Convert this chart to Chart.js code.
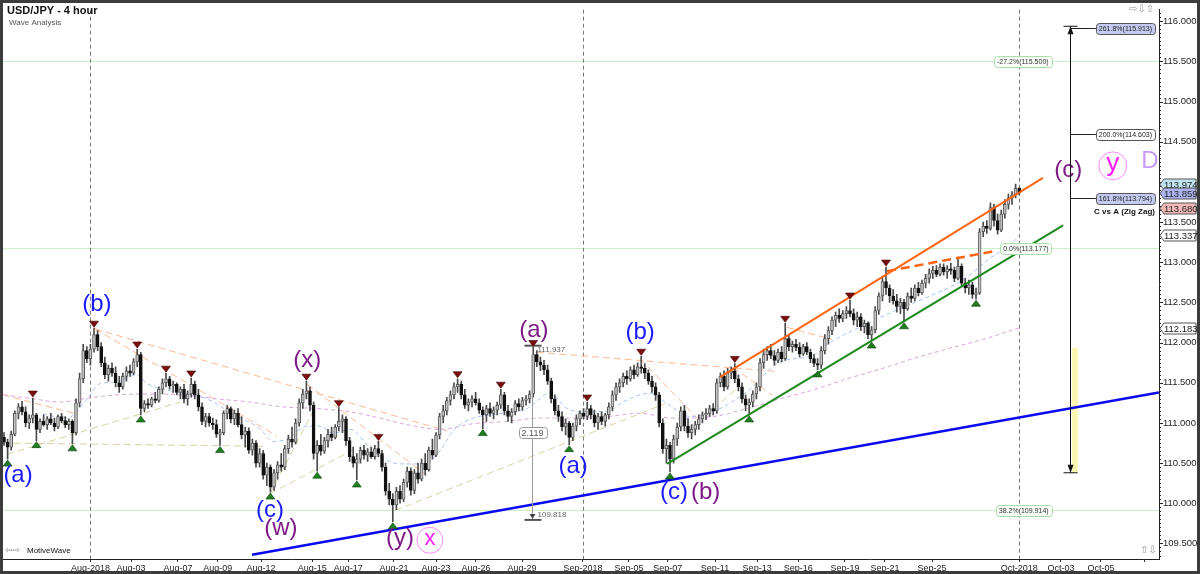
<!DOCTYPE html>
<html>
<head>
<meta charset="utf-8">
<script src="https://cdn.jsdelivr.net/npm/chart.js@4.4.1/dist/chart.umd.min.js"></script>
<style>
  html, body { margin: 0; padding: 0; background: #fff; }
  #wrap { width: 1200px; height: 574px; position: relative; }
</style>
</head>
<body>
<div id="wrap"><canvas id="chart_cv"></canvas></div>
<script>
// x軸の目盛り（バー番号と日付ラベル）
const tickIdx = [24, 35.3, 48.3, 59.4, 71.4, 85.6, 95.6, 108.3, 120, 131.1, 143.9, 160.8, 173.6, 184.4, 197.5, 209.2, 220.6, 233.6, 244.7, 257.8, 282, 293.6, 304.7, 316.8];
const tickLabels = ['Aug-2018', 'Aug-03', 'Aug-07', 'Aug-09', 'Aug-12', 'Aug-15', 'Aug-17', 'Aug-21', 'Aug-23', 'Aug-26', 'Aug-29', 'Sep-2018', 'Sep-05', 'Sep-07', 'Sep-11', 'Sep-13', 'Sep-16', 'Sep-19', 'Sep-21', 'Sep-25', 'Oct-2018', 'Oct-03', 'Oct-05', ''];
const monthIdx = [24, 160.8, 282];
const yTicks = [109.5, 110, 110.5, 111, 111.5, 112, 112.5, 113, 113.5, 114, 114.5, 115, 115.5, 116];

// ローソク足 (4時間足)
const opens = [
  110.82,110.76,110.70,110.86,111.12,111.20,111.14,111.00,111.06,111.10,
  110.92,111.02,110.98,111.05,111.00,110.95,111.08,111.03,110.98,111.02,
  110.88,111.25,111.55,111.90,111.80,111.92,112.10,111.95,111.75,111.60,
  111.68,111.62,111.50,111.45,111.58,111.65,111.62,111.76,111.85,111.18,
  111.24,111.22,111.30,111.28,111.42,111.50,111.55,111.46,111.48,111.38,
  111.42,111.30,111.36,111.48,111.35,111.20,111.02,111.08,111.00,110.98,
  110.86,110.88,111.12,111.18,111.05,111.12,110.98,110.85,110.90,110.66,
  110.75,110.50,110.62,110.35,110.45,110.20,110.38,110.48,110.45,110.68,
  110.80,110.76,111.00,111.25,111.36,111.40,111.22,110.62,110.72,110.65,
  110.78,110.86,110.82,110.95,111.02,111.05,110.78,110.58,110.50,110.55,
  110.66,110.60,110.64,110.58,110.68,110.62,110.45,110.15,110.05,109.98,
  110.15,110.05,110.26,110.40,110.16,110.38,110.30,110.50,110.42,110.66,
  110.60,110.85,111.08,111.15,111.28,111.35,111.45,111.48,111.35,111.22,
  111.26,111.30,111.25,111.16,111.10,111.18,111.12,111.16,111.22,111.35,
  111.15,111.08,111.14,111.24,111.20,111.28,111.30,111.36,111.85,111.76,
  111.72,111.66,111.52,111.30,111.15,111.08,110.95,111.00,110.82,110.96,
  111.05,111.12,111.08,111.18,111.10,111.00,111.08,111.02,111.10,111.20,
  111.35,111.45,111.50,111.58,111.55,111.66,111.60,111.70,111.68,111.62,
  111.52,111.45,111.35,111.00,110.68,110.72,110.55,110.80,110.95,111.15,
  110.96,110.88,110.92,110.98,111.05,111.10,111.12,111.18,111.15,111.50,
  111.58,111.45,111.62,111.65,111.55,111.45,111.30,111.22,111.26,111.36,
  111.45,111.75,111.85,111.90,111.84,111.78,111.88,111.80,112.05,111.95,
  111.98,111.94,111.86,111.95,111.88,111.80,111.74,111.72,111.90,112.05,
  112.15,112.28,112.34,112.30,112.36,112.40,112.36,112.28,112.32,112.20,
  112.24,112.10,112.16,112.40,112.58,112.76,112.68,112.58,112.52,112.45,
  112.50,112.42,112.58,112.55,112.68,112.62,112.74,112.80,112.86,112.90,
  112.85,112.94,112.88,112.92,112.90,112.80,112.95,112.74,112.68,112.72,
  112.60,112.62,113.38,113.45,113.42,113.68,113.52,113.40,113.60,113.72,
  113.80,113.84,113.92
];
const highs = [
  110.88,110.80,110.90,111.15,111.24,111.27,111.20,111.10,111.31,111.12,
  111.05,111.10,111.08,111.12,111.06,111.10,111.12,111.08,111.05,111.04,
  111.30,111.62,111.98,111.95,111.98,112.18,112.15,112.00,111.82,111.72,
  111.75,111.70,111.58,111.62,111.70,111.72,111.80,111.92,111.88,111.28,
  111.30,111.32,111.38,111.45,111.55,111.62,111.58,111.52,111.50,111.45,
  111.48,111.40,111.56,111.52,111.42,111.25,111.12,111.12,111.06,111.04,
  110.92,111.15,111.22,111.20,111.16,111.18,111.08,110.95,110.94,110.80,
  110.78,110.68,110.66,110.50,110.48,110.42,110.52,110.62,110.72,110.85,
  110.95,111.05,111.30,111.42,111.52,111.45,111.26,110.78,110.86,110.82,
  110.92,110.95,110.98,111.19,111.10,111.08,110.82,110.70,110.62,110.70,
  110.72,110.68,110.70,110.72,110.77,110.66,110.50,110.25,110.12,110.20,
  110.22,110.30,110.45,110.44,110.42,110.50,110.55,110.62,110.70,110.80,
  110.88,111.12,111.22,111.32,111.40,111.50,111.55,111.52,111.42,111.30,
  111.34,111.38,111.30,111.20,111.22,111.25,111.20,111.26,111.42,111.38,
  111.22,111.18,111.28,111.30,111.32,111.34,111.40,111.94,111.90,111.82,
  111.78,111.72,111.56,111.35,111.22,111.14,111.05,111.02,111.00,111.10,
  111.15,111.18,111.26,111.22,111.16,111.12,111.14,111.12,111.25,111.40,
  111.50,111.55,111.62,111.65,111.70,111.72,111.75,111.83,111.74,111.66,
  111.58,111.50,111.38,111.05,110.80,110.76,110.85,111.00,111.20,111.22,
  111.05,110.98,111.02,111.10,111.14,111.18,111.22,111.24,111.55,111.62,
  111.65,111.68,111.70,111.74,111.60,111.50,111.35,111.30,111.40,111.50,
  111.80,111.92,111.95,111.98,111.90,111.92,111.95,112.24,112.10,112.02,
  112.04,112.00,111.98,112.00,111.92,111.85,111.80,111.95,112.10,112.20,
  112.32,112.38,112.42,112.40,112.45,112.53,112.42,112.38,112.36,112.28,
  112.26,112.20,112.45,112.62,112.82,112.94,112.72,112.66,112.60,112.55,
  112.54,112.62,112.68,112.72,112.75,112.78,112.85,112.92,112.95,112.96,
  112.98,112.98,112.96,112.99,112.94,113.05,112.98,112.80,112.78,112.75,
  112.68,113.42,113.50,113.52,113.74,113.72,113.60,113.65,113.78,113.85,
  113.88,113.974,113.93
];
const lows = [
  110.72,110.55,110.66,110.84,111.05,111.10,110.95,110.93,111.00,110.78,
  110.88,110.96,110.92,110.98,110.90,110.93,111.00,110.94,110.92,110.74,
  110.85,111.20,111.50,111.75,111.72,111.88,111.90,111.70,111.55,111.52,
  111.58,111.45,111.38,111.42,111.52,111.58,111.60,111.70,111.10,111.14,
  111.18,111.20,111.25,111.26,111.36,111.45,111.42,111.38,111.35,111.30,
  111.25,111.22,111.32,111.30,111.15,110.98,110.95,110.96,110.92,110.82,
  110.72,110.85,111.05,111.00,110.98,110.95,110.80,110.70,110.62,110.60,
  110.45,110.45,110.30,110.22,110.14,110.16,110.30,110.40,110.42,110.62,
  110.70,110.74,110.96,111.18,111.30,111.15,110.55,110.40,110.60,110.62,
  110.70,110.78,110.80,110.90,110.88,110.72,110.52,110.45,110.29,110.50,
  110.55,110.52,110.56,110.55,110.58,110.40,110.10,109.98,109.77,109.92,
  110.00,110.02,110.20,110.10,110.12,110.25,110.28,110.35,110.40,110.55,
  110.58,110.80,111.00,111.10,111.22,111.30,111.38,111.30,111.18,111.15,
  111.20,111.22,111.12,110.93,111.02,111.08,111.05,111.10,111.18,111.10,
  111.02,111.00,111.10,111.15,111.16,111.22,111.25,111.32,111.70,111.65,
  111.60,111.48,111.25,111.10,111.02,110.90,110.85,110.73,110.78,110.90,
  110.98,111.05,111.04,111.05,110.95,110.92,110.98,110.96,111.05,111.15,
  111.28,111.38,111.45,111.48,111.52,111.55,111.58,111.62,111.55,111.48,
  111.38,111.28,110.95,110.62,110.50,110.39,110.50,110.72,110.90,110.90,
  110.82,110.80,110.85,110.92,111.00,111.04,111.08,111.10,111.12,111.45,
  111.40,111.42,111.55,111.50,111.40,111.25,111.15,111.10,111.20,111.30,
  111.40,111.68,111.78,111.80,111.72,111.75,111.76,111.78,111.90,111.88,
  111.90,111.82,111.84,111.85,111.75,111.70,111.66,111.68,111.86,111.98,
  112.10,112.20,112.25,112.26,112.30,112.32,112.22,112.20,112.15,112.12,
  112.05,112.02,112.12,112.35,112.52,112.60,112.50,112.48,112.38,112.36,
  112.26,112.40,112.50,112.52,112.58,112.60,112.68,112.74,112.80,112.82,
  112.83,112.84,112.80,112.85,112.76,112.78,112.70,112.62,112.60,112.55,
  112.54,112.60,113.32,113.36,113.40,113.45,113.35,113.38,113.55,113.66,
  113.72,113.80,113.84
];
const closes = [
  110.76,110.70,110.86,111.12,111.20,111.14,111.00,111.06,111.10,110.92,
  111.02,110.98,111.05,111.00,110.95,111.08,111.03,110.98,111.02,110.88,
  111.25,111.55,111.90,111.80,111.92,112.10,111.95,111.75,111.60,111.68,
  111.62,111.50,111.45,111.58,111.65,111.62,111.76,111.85,111.18,111.24,
  111.22,111.30,111.28,111.42,111.50,111.55,111.46,111.48,111.38,111.42,
  111.30,111.36,111.48,111.35,111.20,111.02,111.08,111.00,110.98,110.86,
  110.88,111.12,111.18,111.05,111.12,110.98,110.85,110.90,110.66,110.75,
  110.50,110.62,110.35,110.45,110.20,110.38,110.48,110.45,110.68,110.80,
  110.76,111.00,111.25,111.36,111.40,111.22,110.62,110.72,110.65,110.78,
  110.86,110.82,110.95,111.02,111.05,110.78,110.58,110.50,110.55,110.66,
  110.60,110.64,110.58,110.68,110.62,110.45,110.15,110.05,109.98,110.15,
  110.05,110.26,110.40,110.16,110.38,110.30,110.50,110.42,110.66,110.60,
  110.85,111.08,111.15,111.28,111.35,111.45,111.48,111.35,111.22,111.26,
  111.30,111.25,111.16,111.10,111.18,111.12,111.16,111.22,111.35,111.15,
  111.08,111.14,111.24,111.20,111.28,111.30,111.36,111.85,111.76,111.72,
  111.66,111.52,111.30,111.15,111.08,110.95,111.00,110.82,110.96,111.05,
  111.12,111.08,111.18,111.10,111.00,111.08,111.02,111.10,111.20,111.35,
  111.45,111.50,111.58,111.55,111.66,111.60,111.70,111.68,111.62,111.52,
  111.45,111.35,111.00,110.68,110.72,110.55,110.80,110.95,111.15,110.96,
  110.88,110.92,110.98,111.05,111.10,111.12,111.18,111.15,111.50,111.58,
  111.45,111.62,111.65,111.55,111.45,111.30,111.22,111.26,111.36,111.45,
  111.75,111.85,111.90,111.84,111.78,111.88,111.80,112.05,111.95,111.98,
  111.94,111.86,111.95,111.88,111.80,111.74,111.72,111.90,112.05,112.15,
  112.28,112.34,112.30,112.36,112.40,112.36,112.28,112.32,112.20,112.24,
  112.10,112.16,112.40,112.58,112.76,112.68,112.58,112.52,112.45,112.50,
  112.42,112.58,112.55,112.68,112.62,112.74,112.80,112.86,112.90,112.85,
  112.94,112.88,112.92,112.90,112.80,112.95,112.74,112.68,112.72,112.60,
  112.62,113.38,113.45,113.42,113.68,113.52,113.40,113.60,113.72,113.80,
  113.84,113.92,113.86
];

// 移動平均（青＝短期、紫＝長期）
const maFastIdx = [10.8, 17.5, 23.1, 26.7, 31.4, 36.9, 39.7, 45.3, 50.8, 56.4, 63.6, 71.1, 74.7, 78.6, 84.2, 87.8, 91.4, 96.1, 102.5, 110, 116.4, 121.1, 124.7, 130.3, 137, 145.3, 151.7, 156.4, 160, 167.5, 171.9, 179.4, 184.2, 190.6, 197, 206.4, 215.6, 224.7, 229.4, 238.6, 248.1, 257.2, 266.4, 273.9, 280.3, 282];
const maFast = [111.11, 111.06, 111.30, 111.49, 111.51, 111.60, 111.49, 111.41, 111.36, 111.30, 111.11, 110.93, 110.77, 110.80, 110.96, 110.96, 110.87, 110.92, 110.65, 110.49, 110.49, 110.65, 110.90, 111.06, 111.11, 111.18, 111.37, 111.18, 111.14, 111.14, 111.26, 111.37, 111.24, 111.08, 111.14, 111.39, 111.76, 111.84, 112.00, 112.21, 112.41, 112.58, 112.78, 113.05, 113.25, 113.337];
const maSlowIdx = [0, 8.1, 15.6, 21.9, 31.4, 40.6, 49.7, 59.2, 68.3, 77.5, 86.9, 96.1, 102.5, 111.9, 121.1, 130.3, 139.7, 148.9, 158.1, 167.5, 176.7, 185.8, 197, 206.4, 215.6, 224.7, 234.2, 243.3, 252.5, 261.9, 271.1, 282];
const maSlow = [111.35, 111.30, 111.26, 111.30, 111.35, 111.36, 111.35, 111.30, 111.26, 111.20, 111.18, 111.14, 111.08, 110.98, 110.92, 110.99, 111.02, 111.06, 111.06, 111.08, 111.12, 111.06, 111.08, 111.18, 111.30, 111.41, 111.55, 111.67, 111.80, 111.92, 112.03, 112.183];

// スイング高値・安値（バー番号）
const swingHighs = [8, 25, 37, 45, 52, 84, 93, 104, 126, 138, 147, 162, 177, 203, 217, 235, 245];
const swingLows = [1, 9, 19, 38, 60, 74, 87, 98, 108, 133, 157, 185, 207, 226, 241, 250, 270];

// フィボナッチ
const fibPct = ['261.8%', '200.0%', '161.8%'];
const fibLevels = [115.913, 114.603, 113.794];
const retPct = ['-27.2%', '0.0%', '38.2%'];
const retLevels = [115.500, 113.177, 109.914];
const zigBase = 110.38;
const measureTop = 111.937;
const measureBottom = 109.818;
const priceTags = [113.974, 113.859, 113.680, 113.337, 112.183];

// トレンドライン [バー番号, 価格]
const blueLine = [[68.9, 109.36], [320.8, 111.38]];
const greenLine = [[184.2, 110.49], [294.2, 113.46]];
const orangeLine = [[198.9, 111.57], [288.6, 114.05]];
const orangeDash = [[245.3, 112.89], [275.3, 113.14]];
const salmonLines = [
  [[-0.3, 111.35], [20.3, 111.11]],
  [[25.3, 112.17], [123.1, 110.90]],
  [[25.3, 112.17], [75.8, 110.84]],
  [[84.2, 111.48], [118.3, 110.32]],
  [[148.1, 111.88], [215, 111.64]],
  [[176.7, 111.80], [192.5, 111.06]],
  [[202.5, 111.69], [213.3, 111.35]],
  [[217.5, 112.19], [230, 112.04]]
];
const tanLines = [
  [[0.8, 110.61], [48.9, 111.26]],
  [[-0.3, 110.75], [73, 110.71]],
  [[73.9, 110.12], [85.8, 111.14]],
  [[73.9, 110.12], [98, 110.69]],
  [[108.6, 109.91], [183.6, 111.24]],
  [[197, 111.17], [203.6, 111.43]]
];

const BLUE = '#1a1aff', PURPLE = '#7d1a86';
// 波動ラベル
const waveLabels = [
  { t: '(a)', i: 3.9, p: 110.35, c: BLUE },
  { t: '(b)', i: 25.8, p: 112.47, c: BLUE },
  { t: '(c)', i: 73.9, p: 109.91, c: BLUE },
  { t: '(w)', i: 76.9, p: 109.69, c: PURPLE },
  { t: '(x)', i: 84.2, p: 111.78, c: PURPLE },
  { t: '(y)', i: 110, p: 109.565, c: PURPLE },
  { t: '(a)', i: 147.2, p: 112.15, c: PURPLE },
  { t: '(a)', i: 158.1, p: 110.465, c: BLUE },
  { t: '(b)', i: 176.7, p: 112.13, c: BLUE },
  { t: '(c)', i: 186.1, p: 110.13, c: BLUE },
  { t: '(b)', i: 194.9, p: 110.13, c: PURPLE },
  { t: '(c)', i: 295.6, p: 114.14, c: PURPLE }
];

function seg(pts, color, width, dash, order) {
  return {
    type: 'line',
    data: pts.map(q => ({ x: q[0], y: q[1] })),
    borderColor: color, borderWidth: width, borderDash: dash || [],
    pointRadius: 0, fill: false, order: order
  };
}

const datasets = [];
datasets.push(seg(blueLine, '#0a0af0', 2.5, null, 1));
datasets.push(seg(greenLine, '#1c8a1c', 2, null, 1));
datasets.push(seg(orangeLine, '#ff6410', 2, null, 1));
datasets.push(seg(orangeDash, '#ff6410', 2.5, [9, 5], 1));
datasets.push({
  type: 'bar', order: 4, grouped: false, barThickness: 3, minBarLength: 1,
  data: opens.map((o, i) => ({ x: i, y: [o, closes[i]] })),
  backgroundColor: ctx => closes[ctx.dataIndex] >= opens[ctx.dataIndex] ? '#c4c4c4' : '#111111',
  borderColor: ctx => closes[ctx.dataIndex] >= opens[ctx.dataIndex] ? '#5a5a5a' : '#111111',
  borderWidth: 1, borderSkipped: false
});
datasets.push({
  type: 'bar', order: 5, grouped: false, barThickness: 1,
  data: highs.map((h, i) => ({ x: i, y: [lows[i], h] })),
  backgroundColor: '#4a4a4a', borderWidth: 0
});
datasets.push({
  type: 'line', order: 8, data: maFastIdx.map((x, k) => ({ x: x, y: maFast[k] })),
  borderColor: '#a9c1f7', borderWidth: 1, borderDash: [4, 3], pointRadius: 0,
  cubicInterpolationMode: 'monotone'
});
datasets.push({
  type: 'line', order: 8, data: maSlowIdx.map((x, k) => ({ x: x, y: maSlow[k] })),
  borderColor: '#d9a6df', borderWidth: 1, borderDash: [4, 3], pointRadius: 0,
  cubicInterpolationMode: 'monotone'
});
salmonLines.forEach(l => datasets.push(seg(l, '#ffb893', 1, [7, 4], 9)));
tanLines.forEach(l => datasets.push(seg(l, '#d8d2a2', 1, [7, 4], 9)));

function box(ctx, xr, yc, text, fill, stroke, font, color, align) {
  ctx.font = font;
  const w = ctx.measureText(text).width + 6, h = 11;
  const x0 = align === 'center' ? xr - w / 2 : xr - w;
  ctx.beginPath();
  ctx.roundRect(Math.round(x0) + 0.5, Math.round(yc - h / 2) + 0.5, Math.round(w), h, 3);
  ctx.fillStyle = fill; ctx.fill();
  ctx.strokeStyle = stroke; ctx.lineWidth = 1; ctx.stroke();
  ctx.fillStyle = color; ctx.textAlign = 'center'; ctx.textBaseline = 'middle';
  ctx.fillText(text, x0 + w / 2, yc + 0.5);
  return x0;
}

const overlay = {
  id: 'overlay',
  beforeDatasetsDraw(chart) {
    const { ctx, chartArea: a } = chart;
    const x = chart.scales.x, y = chart.scales.y;
    ctx.save();
    ctx.strokeStyle = '#c9f0c9'; ctx.lineWidth = 1;
    retLevels.forEach(v => {
      const py = Math.round(y.getPixelForValue(v)) + 0.5;
      ctx.beginPath(); ctx.moveTo(a.left, py); ctx.lineTo(a.right, py); ctx.stroke();
    });
    ctx.setLineDash([4, 3]); ctx.strokeStyle = '#7a7a7a';
    monthIdx.forEach(m => {
      const px = Math.round(x.getPixelForValue(m)) + 0.5;
      ctx.beginPath(); ctx.moveTo(px, a.top); ctx.lineTo(px, a.bottom); ctx.stroke();
    });
    ctx.setLineDash([]);
    // 黄色の帯
    const yx0 = x.getPixelForValue(296.7), yx1 = x.getPixelForValue(298.3);
    ctx.fillStyle = '#fbf6b0';
    ctx.fillRect(yx0, y.getPixelForValue(measureTop), yx1 - yx0, y.getPixelForValue(zigBase) - y.getPixelForValue(measureTop));
    ctx.restore();
  },
  afterDatasetsDraw(chart) {
    const { ctx, chartArea: a } = chart;
    const x = chart.scales.x, y = chart.scales.y;
    ctx.save();
    // 測定ツール
    const mx = Math.round(x.getPixelForValue(146.7)) + 0.5;
    const mt = y.getPixelForValue(measureTop), mb = y.getPixelForValue(measureBottom);
    ctx.strokeStyle = '#9a9a9a'; ctx.lineWidth = 1;
    ctx.beginPath(); ctx.moveTo(mx, mt); ctx.lineTo(mx, mb); ctx.stroke();
    ctx.strokeStyle = '#555'; ctx.lineWidth = 2;
    ctx.beginPath(); ctx.moveTo(mx - 8, mt - 2); ctx.lineTo(mx + 9, mt - 2); ctx.stroke();
    ctx.beginPath(); ctx.moveTo(mx - 8, mb + 2); ctx.lineTo(mx + 9, mb + 2); ctx.stroke();
    ctx.fillStyle = '#444';
    ctx.beginPath(); ctx.moveTo(mx - 3, mb - 4); ctx.lineTo(mx + 3, mb - 4); ctx.lineTo(mx, mb + 1); ctx.fill();
    ctx.font = '8px "Liberation Sans"'; ctx.fillStyle = '#666'; ctx.textBaseline = 'middle'; ctx.textAlign = 'left';
    ctx.fillText(measureTop.toFixed(3), mx + 5, mt + 2);
    ctx.fillText(measureBottom.toFixed(3), mx + 5, mb - 3);
    box(ctx, mx, (mt + mb) / 2, (measureTop - measureBottom).toFixed(3), '#fff', '#999', '9px "Liberation Sans"', '#555', 'center');

    // スイングマーカー
    swingHighs.forEach(i => {
      const px = x.getPixelForValue(i), py = y.getPixelForValue(highs[i]) - 1;
      ctx.beginPath(); ctx.moveTo(px, py); ctx.lineTo(px - 4.5, py - 6); ctx.lineTo(px + 4.5, py - 6); ctx.closePath();
      ctx.fillStyle = '#7c0d0d'; ctx.fill(); ctx.strokeStyle = '#3a0000'; ctx.lineWidth = 0.6; ctx.stroke();
    });
    swingLows.forEach(i => {
      const px = x.getPixelForValue(i), py = y.getPixelForValue(lows[i]) + 1;
      ctx.beginPath(); ctx.moveTo(px, py); ctx.lineTo(px - 4.5, py + 6); ctx.lineTo(px + 4.5, py + 6); ctx.closePath();
      ctx.fillStyle = '#1d7f1d'; ctx.fill(); ctx.strokeStyle = '#0a3a0a'; ctx.lineWidth = 0.6; ctx.stroke();
    });

    // 波動ラベル
    ctx.textAlign = 'center'; ctx.textBaseline = 'middle';
    waveLabels.forEach(w => {
      ctx.font = '24px "Liberation Sans"'; ctx.fillStyle = w.c;
      ctx.fillText(w.t, x.getPixelForValue(w.i), y.getPixelForValue(w.p));
    });
    // 丸囲み x / y と D
    const cx1 = x.getPixelForValue(118.3), cy1 = y.getPixelForValue(109.54);
    ctx.strokeStyle = '#ff8cff'; ctx.lineWidth = 1;
    ctx.beginPath(); ctx.arc(cx1, cy1, 13, 0, Math.PI * 2); ctx.stroke();
    ctx.fillStyle = '#ff1aff'; ctx.font = '22px "Liberation Sans"';
    ctx.fillText('x', cx1, cy1 - 1);
    const cx2 = x.getPixelForValue(308), cy2 = y.getPixelForValue(114.20);
    ctx.beginPath(); ctx.arc(cx2, cy2, 14, 0, Math.PI * 2); ctx.stroke();
    ctx.font = '26px "Liberation Sans"'; ctx.fillText('y', cx2, cy2 - 2);
    ctx.fillStyle = '#c79cf5'; ctx.font = '24px "Liberation Sans"';
    ctx.fillText('D', x.getPixelForValue(318.3), y.getPixelForValue(114.25));

    // 戻り（リトレースメント）ラベル
    const rr = x.getPixelForValue(291);
    retLevels.forEach((v, k) => {
      box(ctx, rr, y.getPixelForValue(v), retPct[k] + '(' + v.toFixed(3) + ')', '#fbfff9', '#a8dca8', '7px "Liberation Sans"', '#333', 'right');
    });

    // C vs A 矢印とフィボナッチ拡張
    const ax = Math.round(x.getPixelForValue(296.1)) + 0.5;
    const at = y.getPixelForValue(fibLevels[0]) - 2, ab = y.getPixelForValue(zigBase);
    ctx.strokeStyle = '#111'; ctx.lineWidth = 1;
    ctx.beginPath(); ctx.moveTo(ax, at); ctx.lineTo(ax, ab); ctx.stroke();
    ctx.beginPath(); ctx.moveTo(ax - 7, at); ctx.lineTo(ax + 7, at); ctx.stroke();
    ctx.beginPath(); ctx.moveTo(ax - 7, ab); ctx.lineTo(ax + 7, ab); ctx.stroke();
    ctx.fillStyle = '#111';
    ctx.beginPath(); ctx.moveTo(ax, at); ctx.lineTo(ax - 3, at + 8); ctx.lineTo(ax + 3, at + 8); ctx.fill();
    ctx.beginPath(); ctx.moveTo(ax, ab); ctx.lineTo(ax - 3, ab - 8); ctx.lineTo(ax + 3, ab - 8); ctx.fill();
    const fr = a.right - 4;
    fibLevels.forEach((v, k) => {
      const py = Math.round(y.getPixelForValue(v)) + 0.5;
      const fill = k === 1 ? '#ffffff' : '#c4cbf0';
      ctx.font = '7px "Liberation Sans"';
      const w = ctx.measureText(fibPct[k] + '(' + v.toFixed(3) + ')').width + 6;
      ctx.strokeStyle = '#222'; ctx.lineWidth = 1;
      ctx.beginPath(); ctx.moveTo(ax, py); ctx.lineTo(fr - w, py); ctx.stroke();
      box(ctx, fr, py, fibPct[k] + '(' + v.toFixed(3) + ')', fill, '#555', '7px "Liberation Sans"', '#222', 'right');
    });
    ctx.font = 'bold 8px "Liberation Sans"'; ctx.fillStyle = '#111'; ctx.textAlign = 'right'; ctx.textBaseline = 'middle';
    ctx.fillText('C vs A (Zig Zag)', fr, y.getPixelForValue(fibLevels[2]) + 13);
    ctx.restore();
  },
  afterDraw(chart) {
    const { ctx, chartArea: a } = chart;
    const y = chart.scales.y;
    ctx.save();
    // 副目盛り
    ctx.strokeStyle = '#222'; ctx.lineWidth = 1;
    for (let k = 0; k <= 140; k++) {
      const v = 109.35 + k * 0.05;
      if (v > y.max) break;
      const py = Math.round(y.getPixelForValue(v)) + 0.5;
      const major = Math.abs(v * 2 - Math.round(v * 2)) < 0.001;
      ctx.beginPath(); ctx.moveTo(a.right, py); ctx.lineTo(a.right + (major ? 4 : 2), py); ctx.stroke();
    }
    // 価格タグ
    const tagFill = ['#bfe4f0', '#aab3ee', '#f2b9b9', '#ffffff', '#ffffff'];
    priceTags.forEach((v, k) => {
      const py = Math.round(y.getPixelForValue(v)) + 0.5, x0 = a.right + 1, w = 36, h = 11;
      ctx.beginPath();
      ctx.moveTo(x0, py); ctx.lineTo(x0 + 4, py - h / 2); ctx.lineTo(x0 + w, py - h / 2);
      ctx.lineTo(x0 + w, py + h / 2); ctx.lineTo(x0 + 4, py + h / 2); ctx.closePath();
      ctx.fillStyle = tagFill[k]; ctx.fill(); ctx.strokeStyle = '#555'; ctx.stroke();
      ctx.fillStyle = '#222'; ctx.font = '9.5px "Liberation Sans"'; ctx.textAlign = 'left'; ctx.textBaseline = 'middle';
      ctx.fillText(v.toFixed(3), x0 + 4, py + 0.5);
    });
    // タイトル
    ctx.textAlign = 'left'; ctx.textBaseline = 'middle';
    ctx.font = 'bold 11px "Liberation Sans"'; ctx.fillStyle = '#111';
    ctx.fillText('USD/JPY - 4 hour', 7, 11);
    ctx.font = '8px "Liberation Sans"'; ctx.fillStyle = '#555';
    ctx.fillText('Wave Analysis', 9, 23);
    ctx.font = '9px "DejaVu Sans"'; ctx.fillStyle = '#888';
    ctx.fillText('\u21e6\u21e8', 5, 551);
    ctx.font = '8px "Liberation Sans"'; ctx.fillStyle = '#111';
    ctx.fillText('MotiveWave', 27, 551);
    ctx.font = '10px "DejaVu Sans"'; ctx.fillStyle = '#999';
    ctx.fillText('\u21e8\u21e9\u21e7', 1129, 9);
    ctx.fillText('\u21e7\u21e9', 1140, 550);
    // 外枠
    ctx.strokeStyle = '#3c3c3c'; ctx.lineWidth = 3;
    ctx.strokeRect(1.5, 1.5, 1197, 571);
    ctx.restore();
  }
};

const chart_cv = new Chart(document.getElementById('chart_cv'), {
  type: 'bar',
  data: { datasets: datasets },
  options: {
    responsive: true, maintainAspectRatio: false, animation: false,
    layout: { padding: { left: 3, top: 4, right: 0, bottom: 0 } },
    plugins: { legend: { display: false }, tooltip: { enabled: false } },
    scales: {
      x: {
        type: 'linear', min: -0.28, max: 320.83, offset: false,
        afterBuildTicks: s => { s.ticks = tickIdx.map(v => ({ value: v })); },
        afterFit: s => { s.height = 15; },
        ticks: {
          autoSkip: false, maxRotation: 0, padding: 1,
          font: { family: 'Liberation Sans', size: 9 }, color: '#222',
          callback: (v, k) => tickLabels[k]
        },
        grid: { drawOnChartArea: false, drawTicks: true, tickLength: 3, color: '#333', offset: false },
        border: { display: true, color: '#222' }
      },
      y: {
        position: 'right', min: 109.3066, max: 116.1441,
        afterBuildTicks: s => { s.ticks = yTicks.map(v => ({ value: v })); },
        afterFit: s => { s.width = 41; },
        ticks: {
          padding: 4, font: { family: 'Liberation Sans', size: 9.5 }, color: '#222',
          callback: v => Number(v).toFixed(3)
        },
        grid: { drawOnChartArea: false, drawTicks: false },
        border: { display: true, color: '#222' }
      }
    }
  },
  plugins: [overlay]
});
</script>
</body>
</html>
